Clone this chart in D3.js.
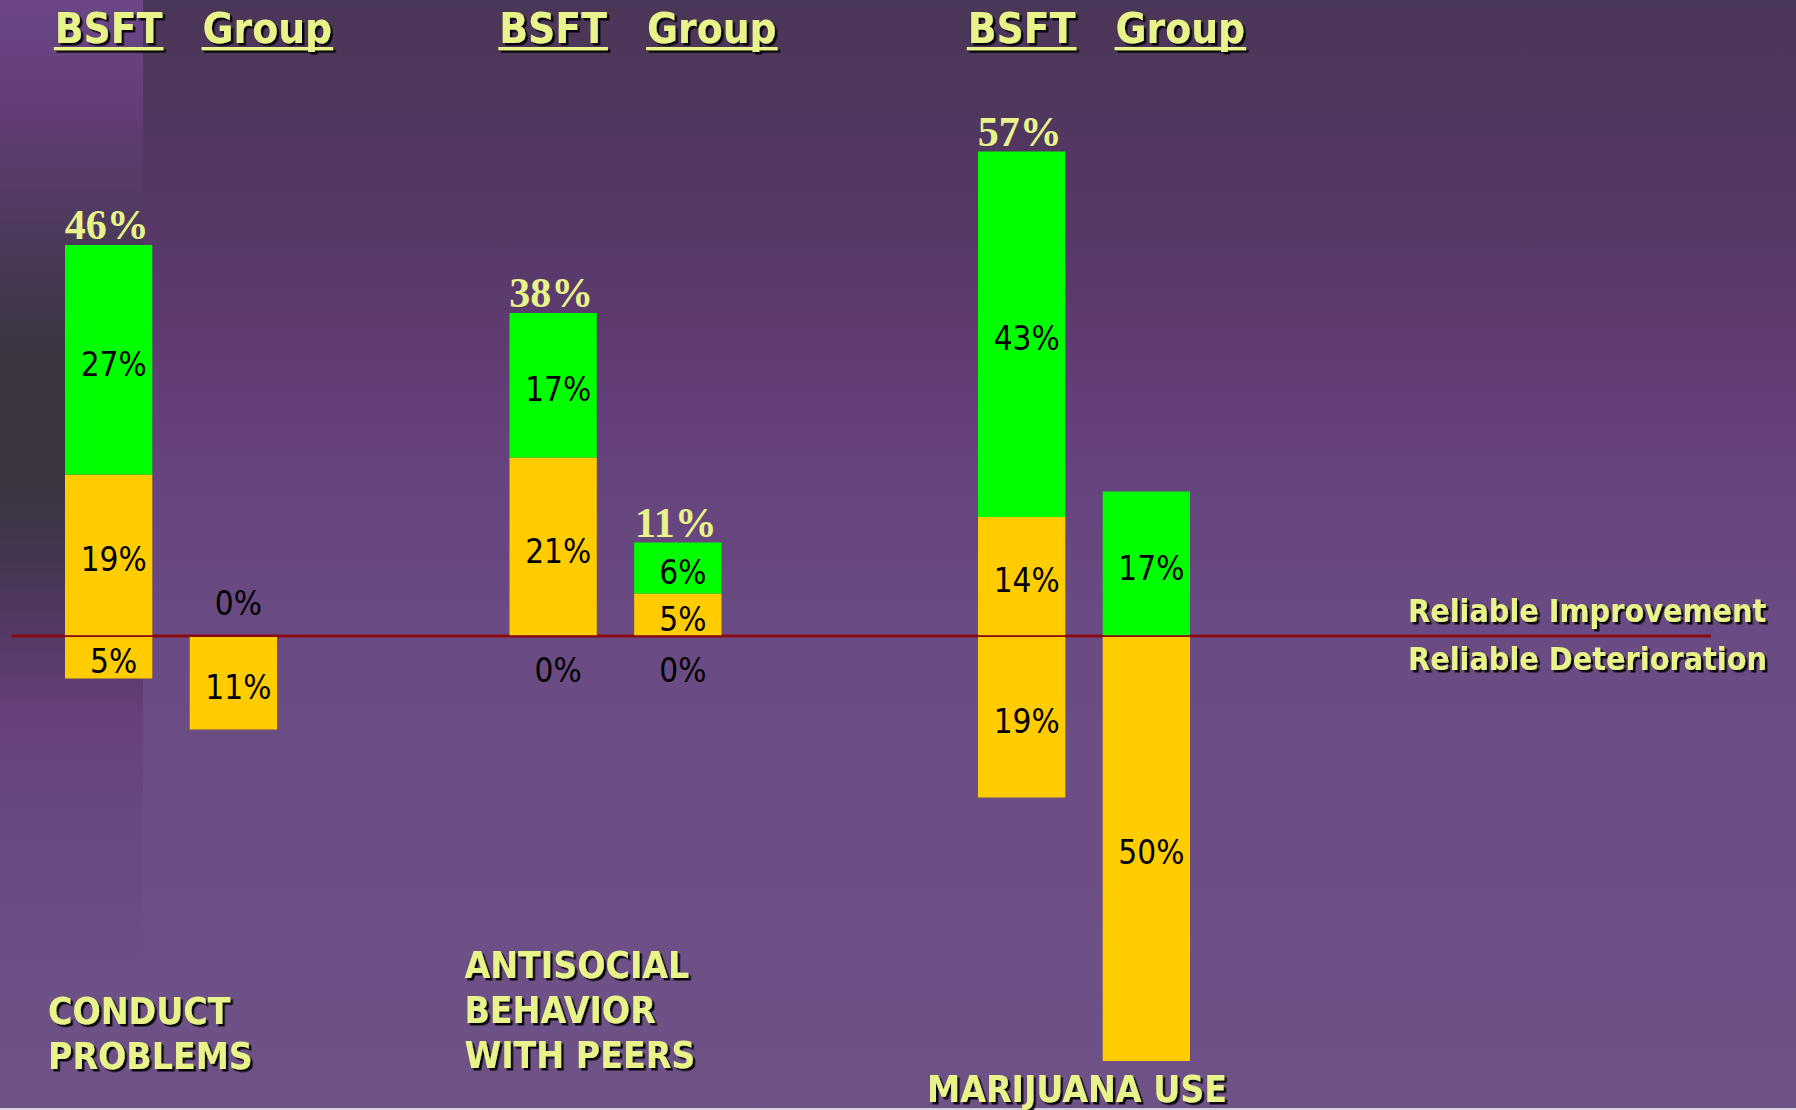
<!DOCTYPE html>
<html><head><meta charset="utf-8">
<script src="https://cdn.jsdelivr.net/npm/d3@7"></script>
<style>html,body{margin:0;padding:0;background:#6a4a82;} svg{display:block}</style>
</head><body>
<svg id="chart" width="1796" height="1110"></svg>
<script>
// ---- data ----
const categories = ["CONDUCT PROBLEMS", "ANTISOCIAL BEHAVIOR WITH PEERS", "MARIJUANA USE"];
const categoryLines = [["CONDUCT", "PROBLEMS"], ["ANTISOCIAL", "BEHAVIOR", "WITH PEERS"], ["MARIJUANA USE"]];
const treatments = ["BSFT", "Group"];
// per category: [BSFT, Group]
const greenImprovement = [[27, 0], [17, 6], [43, 17]];
const yellowImprovement = [[19, 0], [21, 5], [14, 0]];
const deterioration = [[5, 11], [0, 0], [19, 50]];
const legendLabels = ["Reliable Improvement", "Reliable Deterioration"];

// ---- layout ----
const W = 1796, H = 1110;
const baseY = 636, pxPerPct = 8.5;
const sansCond = "'DejaVu Sans Condensed','DejaVu Sans',sans-serif";
const serif = "'Liberation Serif','Times New Roman',serif";
const paleYellow = "#e8f48a";
const green = "#00ff00", orange = "#ffcc00";
const categoryShift = [0, -12, 0];
const labelLayout = [{dx: -17, last: 1069}, {dx: -57, last: 1068}, {dx: -51, last: 1102}];

const svg = d3.select("#chart");
const defs = svg.append("defs");

// background gradients
const bg = defs.append("linearGradient").attr("id", "bg").attr("x1", 0).attr("y1", 0).attr("x2", 0).attr("y2", 1);
[[0, "#4a3656"], [0.18, "#543865"], [0.3, "#5e3b70"], [0.4, "#65427b"], [0.55, "#6a4a82"], [1, "#6e5286"]]
  .forEach(([o, c]) => bg.append("stop").attr("offset", o).attr("stop-color", c));
const strip = defs.append("linearGradient").attr("id", "strip").attr("gradientUnits", "userSpaceOnUse")
  .attr("x1", 0).attr("y1", 0).attr("x2", 0).attr("y2", 1000);
[[0, "#6b4788"], [120, "#603d75"], [230, "#4e3a5c"], [350, "#3c3542"], [480, "#3a3540"], [560, "#453650"],
 [650, "#583a6a"], [720, "#66427c"], [860, "#694b82"], [1000, "#6d5085"]]
  .forEach(([o, c]) => strip.append("stop").attr("offset", o / 1000).attr("stop-color", c));

const f = defs.append("filter").attr("id", "shadow").attr("x", "-10%").attr("y", "-20%").attr("width", "130%").attr("height", "160%");
f.append("feDropShadow").attr("dx", 2.5).attr("dy", 2.5).attr("stdDeviation", 0.6)
  .attr("flood-color", "#000").attr("flood-opacity", 0.9);

svg.append("rect").attr("width", W).attr("height", H).attr("fill", "url(#bg)");
svg.append("rect").attr("width", 143).attr("height", 1000).attr("fill", "url(#strip)");
svg.append("rect").attr("y", H - 2).attr("width", W).attr("height", 2).attr("fill", "#d9d3df");

// scales
const y = d3.scaleLinear().domain([-60, 70]).range([baseY + 60 * pxPerPct, baseY - 70 * pxPerPct]);
const x0 = d3.scalePoint().domain(categories).range([65, 978]);
const x1 = d3.scaleBand().domain(treatments).range([0, 212]).paddingInner(0.3);
const bw = x1.bandwidth();

// rows
const rows = [];
categories.forEach((c, ci) => treatments.forEach((t, ti) => {
  rows.push({cat: c, ci, t, ti, g: greenImprovement[ci][ti], yv: yellowImprovement[ci][ti], d: deterioration[ci][ti],
    x: x0(c) + x1(t) + categoryShift[ci]});
}));

// baseline
svg.append("line").attr("x1", 11).attr("x2", 1711).attr("y1", y(0)).attr("y2", y(0))
  .attr("stroke", "#8a0a12").attr("stroke-width", 3);

const bars = svg.append("g");
rows.forEach(r => {
  if (r.yv > 0) bars.append("rect").attr("x", r.x).attr("width", bw)
    .attr("y", y(r.yv)).attr("height", y(0) - 0.8 - y(r.yv)).attr("fill", orange);
  if (r.g > 0) bars.append("rect").attr("x", r.x).attr("width", bw)
    .attr("y", y(r.yv + r.g)).attr("height", (r.yv > 0 ? y(r.yv) : y(0) - 0.8) - y(r.yv + r.g)).attr("fill", green);
  if (r.d > 0) bars.append("rect").attr("x", r.x).attr("width", bw)
    .attr("y", y(0) + 1).attr("height", y(-r.d) - y(0) - 1).attr("fill", orange);
});

// value labels
const lab = svg.append("g").attr("font-family", sansCond).attr("font-stretch", "condensed")
  .attr("font-size", 33).attr("fill", "#000").attr("text-anchor", "middle");
const pct = v => v + "%";
rows.forEach(r => {
  const cx = r.x + bw / 2 + 5;
  if (r.g > 0) lab.append("text").attr("x", cx).attr("y", (y(r.yv) + y(r.yv + r.g)) / 2 + 4).attr("dy", "0.36em").text(pct(r.g));
  if (r.yv > 0) lab.append("text").attr("x", cx).attr("y", (y(0) + y(r.yv)) / 2 + 4).attr("dy", "0.36em").text(pct(r.yv));
  if (r.g + r.yv === 0) lab.append("text").attr("x", cx).attr("y", y(0) - 21).text(pct(0));
  if (r.d > 0) lab.append("text").attr("x", cx).attr("y", (y(0) + y(-r.d)) / 2 + 4).attr("dy", "0.36em").text(pct(r.d));
  else lab.append("text").attr("x", cx).attr("y", y(0) + 46).text(pct(0));
});

// totals
const tot = svg.append("g").attr("font-family", serif).attr("font-weight", "bold").attr("font-size", 42)
  .attr("fill", paleYellow).attr("text-anchor", "middle");
rows.filter(r => r.g > 0 && r.yv > 0).forEach(r => {
  tot.append("text").attr("x", r.x + bw / 2 - 2).attr("y", y(r.g + r.yv) - 6).text(pct(r.g + r.yv));
});

// headers
const hdr = svg.append("g").attr("filter", "url(#shadow)");
rows.forEach(r => {
  const cx = r.x + bw / 2 + (r.ti === 1 ? 34 : 0);
  const t = hdr.append("text").attr("x", cx).attr("y", 43).attr("text-anchor", "middle")
    .attr("font-family", sansCond).attr("font-stretch", "condensed").attr("font-weight", "bold")
    .attr("font-size", 42).attr("fill", paleYellow).text(r.t);
  const w = t.node().getComputedTextLength();
  hdr.insert("rect", "text").attr("x", cx - w / 2 - 1).attr("y", 47).attr("width", w + 2).attr("height", 3.2).attr("fill", paleYellow);
});

// category labels
const cat = svg.append("g").attr("filter", "url(#shadow)").attr("font-family", sansCond)
  .attr("font-stretch", "condensed").attr("font-weight", "bold").attr("font-size", 37).attr("fill", paleYellow);
categories.forEach((c, ci) => {
  const lines = categoryLines[ci], L = labelLayout[ci];
  lines.forEach((ln, li) => {
    cat.append("text").attr("x", x0(c) + L.dx).attr("y", L.last - (lines.length - 1 - li) * 45).text(ln);
  });
});

// legend labels
const leg = svg.append("g").attr("filter", "url(#shadow)").attr("font-family", sansCond)
  .attr("font-stretch", "condensed").attr("font-weight", "bold").attr("font-size", 32).attr("fill", paleYellow);
leg.append("text").attr("x", 1408).attr("y", y(0) - 14).text(legendLabels[0]);
leg.append("text").attr("x", 1408).attr("y", y(0) + 34).text(legendLabels[1]);
</script>
</body></html>
